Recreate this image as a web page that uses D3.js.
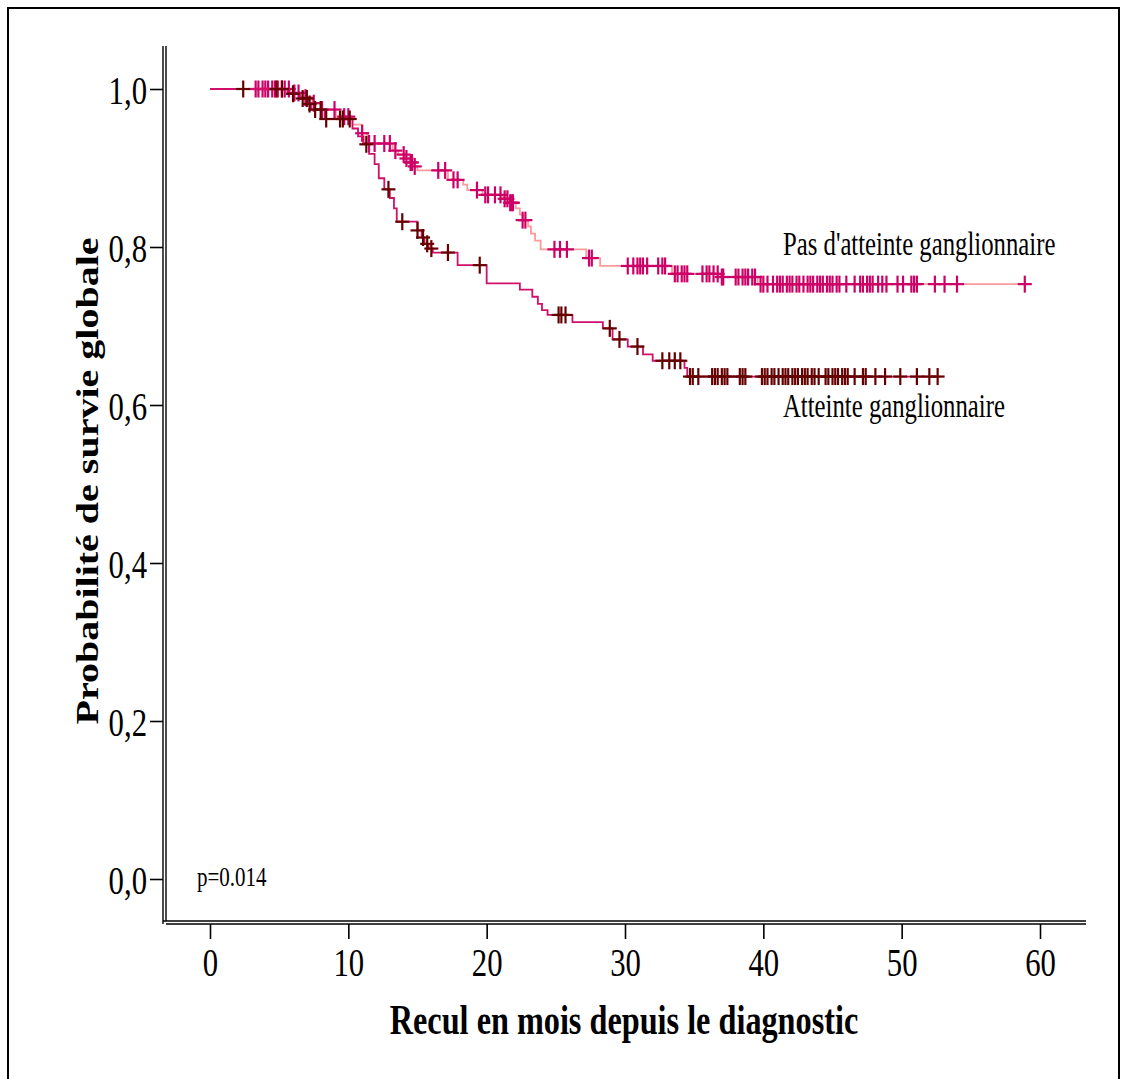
<!DOCTYPE html>
<html>
<head>
<meta charset="utf-8">
<script src="https://cdn.jsdelivr.net/npm/d3@7"></script>
<style>
  html, body { margin: 0; padding: 0; background: #fff; }
  svg { display: block; }
  text { font-family: "Liberation Serif", "Times New Roman", serif; fill: #000; }
</style>
</head>
<body>
<script>
// Kaplan-Meier overall survival by lymph-node status (months since diagnosis)

const xTicks = [0, 10, 20, 30, 40, 50, 60];
const yTicks = [0, 0.2, 0.4, 0.6, 0.8, 1.0];

const groupNames = ["Pas d'atteinte ganglionnaire", "Atteinte ganglionnaire"];
const pValueLabel = "p=0.014";
const xTitle = "Recul en mois depuis le diagnostic";
const yTitle = "Probabilité de survie globale";

// No nodal involvement: [month, survival after the event]
const eventsNoNode = [
  [5.8, 0.995], [6.6, 0.989], [7.4, 0.982], [8.0, 0.974], [9.1, 0.965],
  [10.3, 0.955], [11.0, 0.944], [11.4, 0.931], [13.2, 0.922], [13.6, 0.917],
  [14.1, 0.912], [14.4, 0.907], [14.7, 0.902], [15.0, 0.897], [17.2, 0.885],
  [18.3, 0.879], [18.6, 0.872], [19.7, 0.866], [21.2, 0.861], [21.6, 0.856],
  [22.1, 0.849], [22.4, 0.841], [22.6, 0.834], [23.0, 0.826], [23.2, 0.817],
  [23.5, 0.808], [23.9, 0.797], [27.2, 0.786], [28.2, 0.776], [33.4, 0.766],
  [36.9, 0.762], [39.6, 0.753]
];
const censoredNoNode = [
  3.3, 3.5, 3.8, 4.0, 4.2, 4.5, 4.7, 4.9, 5.2, 5.4, 5.7, 6.1, 6.4, 6.9, 7.5,
  8.1, 9.0, 9.7, 10.0, 11.0, 11.5, 11.9, 12.6, 13.0, 13.4, 14.0, 14.2, 14.5,
  14.6, 14.8, 16.5, 17.0, 17.6, 17.9, 19.3, 19.9, 20.1, 20.6, 21.0, 21.3, 21.5,
  21.7, 21.8, 21.9, 22.6, 22.8, 24.9, 25.3, 25.8, 27.4, 27.6, 30.2, 30.6, 30.9,
  31.1, 31.3, 31.6, 32.4, 32.7, 32.9, 33.6, 33.8, 34.1, 34.3, 34.5, 35.6, 35.9,
  36.1, 36.4, 36.7, 37.0, 37.1, 38.0, 38.2, 38.5, 38.7, 38.9, 39.2, 39.4, 39.8,
  40.0, 40.3, 40.7, 41.0, 41.2, 41.4, 41.7, 41.9, 42.1, 42.4, 42.6, 42.9, 43.2,
  43.4, 43.6, 43.9, 44.1, 44.3, 44.6, 44.8, 45.0, 45.3, 45.5, 46.0, 46.6, 47.0,
  47.2, 47.5, 47.7, 47.9, 48.3, 48.6, 48.9, 49.7, 50.1, 50.7, 50.9, 51.1, 52.4,
  53.1, 54.0, 58.9
];
const lastFollowUpNoNode = 58.9;

// Nodal involvement: [month, survival after the event]
const eventsNode = [
  [5.6, 0.994], [6.5, 0.988], [7.1, 0.981], [7.3, 0.974], [8.3, 0.962],
  [10.3, 0.950], [10.7, 0.940], [11.1, 0.930], [11.5, 0.918], [11.9, 0.905],
  [12.2, 0.887], [12.6, 0.873], [13.0, 0.862], [13.3, 0.849], [13.5, 0.832],
  [15.0, 0.821], [15.3, 0.812], [15.5, 0.804], [15.8, 0.798], [16.1, 0.793],
  [17.9, 0.777], [20.0, 0.754], [22.4, 0.746], [23.3, 0.737], [23.7, 0.728],
  [24.0, 0.720], [24.4, 0.714], [26.2, 0.705], [28.4, 0.697], [29.1, 0.683],
  [30.2, 0.674], [31.3, 0.664], [32.0, 0.656], [34.3, 0.647], [34.5, 0.636]
];
const censoredNode = [
  2.4, 4.8, 5.2, 6.0, 6.7, 7.0, 7.2, 7.6, 8.0, 8.4, 9.4, 9.6, 10.1, 11.3, 12.9,
  13.9, 15.0, 15.4, 15.7, 16.0, 17.2, 19.5, 25.2, 25.4, 25.7, 28.9, 29.6, 30.9,
  32.7, 33.2, 33.6, 34.0, 34.7, 34.9, 35.3, 36.3, 36.5, 36.7, 37.0, 37.2, 37.4,
  38.3, 38.5, 38.7, 39.9, 40.1, 40.3, 40.6, 40.8, 41.1, 41.4, 41.6, 41.8, 42.1,
  42.3, 42.5, 42.8, 43.0, 43.2, 43.5, 43.7, 44.0, 44.5, 44.7, 45.0, 45.2, 45.4,
  45.7, 45.9, 46.1, 46.6, 47.2, 47.4, 48.1, 48.8, 49.9, 51.1, 52.0, 52.6
];
const lastFollowUpNode = 52.8;

const W = 1121, H = 1079;
const SX = 0.75; // narrow type

const svg = d3.select("body").append("svg")
  .attr("width", W).attr("height", H);

// outer frame
svg.append("rect")
  .attr("x", 8).attr("y", 8).attr("width", 1111).attr("height", 1090)
  .attr("fill", "none").attr("stroke", "#000").attr("stroke-width", 2);

const x = d3.scaleLinear().domain([0, 60]).range([210, 1040]);
const y = d3.scaleLinear().domain([0, 1]).range([879, 89]);

// double axis lines
const axisLeftX = 163, axisBottomY = 921;
[0, 3].forEach(o => {
  svg.append("line")
    .attr("x1", axisLeftX + o).attr("x2", axisLeftX + o)
    .attr("y1", 46).attr("y2", axisBottomY + 3 - o)
    .attr("stroke", "#000").attr("stroke-width", 1.4);
  svg.append("line")
    .attr("x1", axisLeftX + 3 - o).attr("x2", 1086)
    .attr("y1", axisBottomY - o + 3).attr("y2", axisBottomY - o + 3)
    .attr("stroke", "#000").attr("stroke-width", 1.4);
});

// narrow the axis labels around their anchor
function narrowLabels(sel) {
  sel.selectAll(".tick text").each(function () {
    const t = d3.select(this);
    const tx = +t.attr("x") || 0;
    t.attr("x", 0).attr("transform", `translate(${tx},0) scale(${SX},1)`);
  });
}

const yAxis = svg.append("g")
  .attr("transform", `translate(${axisLeftX},0)`)
  .call(d3.axisLeft(y).tickValues(yTicks).tickSize(13).tickPadding(3)
    .tickFormat(d => d3.format(".1f")(d).replace(".", ",")));
yAxis.select(".domain").remove();
yAxis.selectAll(".tick line").attr("stroke", "#000").attr("stroke-width", 1.6);
yAxis.selectAll(".tick text")
  .attr("font-family", "Liberation Serif").attr("font-size", 41).attr("dy", "0.36em");
narrowLabels(yAxis);

const xAxis = svg.append("g")
  .attr("transform", `translate(0,${axisBottomY + 3})`)
  .call(d3.axisBottom(x).tickValues(xTicks).tickSize(15).tickPadding(8)
    .tickFormat(d3.format("d")));
xAxis.select(".domain").remove();
xAxis.selectAll(".tick line").attr("stroke", "#000").attr("stroke-width", 1.6);
xAxis.selectAll(".tick text")
  .attr("font-family", "Liberation Serif").attr("font-size", 41);
narrowLabels(xAxis);

// axis titles
svg.append("text")
  .attr("transform", `translate(624,1034) scale(${SX},1)`)
  .attr("text-anchor", "middle").attr("font-weight", "bold").attr("font-size", 43)
  .text(xTitle);
svg.append("text")
  .attr("transform", `translate(98,481) scale(0.8,1) rotate(-90)`)
  .attr("text-anchor", "middle").attr("font-weight", "bold").attr("font-size", 40)
  .text(yTitle);

// step curve + censor ticks
function survivalAt(events, t) {
  let s = 1;
  for (const [et, es] of events) { if (et <= t) s = es; else break; }
  return s;
}
const stepLine = d3.line()
  .x(d => x(d[0])).y(d => y(d[1]))
  .curve(d3.curveStepAfter);

function drawGroup(events, censored, lastT, lineColor, markColor) {
  const pts = [[0, 1], ...events, [lastT, events[events.length - 1][1]]];
  const g = svg.append("g");
  g.append("path")
    .attr("d", stepLine(pts))
    .attr("fill", "none").attr("stroke", lineColor).attr("stroke-width", 1.8);
  const marks = g.selectAll("g.cens").data(censored).join("g")
    .attr("transform", d => `translate(${x(d)},${y(survivalAt(events, d))})`);
  marks.append("line").attr("x1", -7).attr("x2", 7).attr("y1", 0).attr("y2", 0)
    .attr("stroke", markColor).attr("stroke-width", 2.2);
  marks.append("line").attr("x1", 0).attr("x2", 0).attr("y1", -8.5).attr("y2", 8.5)
    .attr("stroke", markColor).attr("stroke-width", 2.2);
}

drawGroup(eventsNoNode, censoredNoNode, lastFollowUpNoNode, "#ff9a9a", "#cc0066");
drawGroup(eventsNode, censoredNode, lastFollowUpNode, "#d0106a", "#660000");

// group labels
svg.append("text")
  .attr("transform", `translate(783,255) scale(${SX},1)`)
  .attr("font-size", 33).text(groupNames[0]);
svg.append("text")
  .attr("transform", `translate(783,417) scale(${SX},1)`)
  .attr("font-size", 33).text(groupNames[1]);

// log-rank p-value
svg.append("text")
  .attr("transform", `translate(197,886) scale(${SX},1)`)
  .attr("font-size", 28).text(pValueLabel);
</script>
</body>
</html>
